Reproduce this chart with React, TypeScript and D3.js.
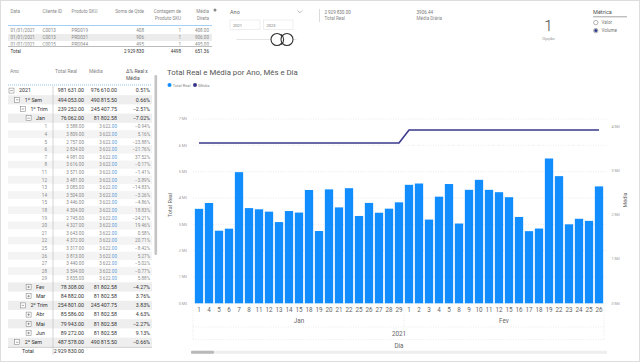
import * as d3 from "d3";

// daily totals shown in the column chart
const janDays = ["1", "4", "5", "6", "7", "8", "11", "12", "13", "14", "15", "18", "19", "20", "21", "22", "25", "26", "27", "28", "29"];
const janTotals = [3588, 3809, 2757, 2834, 4981, 3616, 3571, 3481, 3085, 3504, 3446, 4304, 2745, 4327, 3643, 4372, 3317, 3813, 3440, 3594, 3835];
const fevDays = ["1", "2", "3", "4", "5", "8", "9", "10", "11", "12", "15", "16", "17", "18", "19", "22", "23", "24", "25", "26"];
const fevTotals = [4500, 4550, 3180, 4050, 4530, 3030, 4310, 4690, 4310, 4220, 4030, 3280, 2740, 2840, 5500, 4830, 3000, 3210, 3130, 4440];
const janMediaDia = 3622;
const fevMediaDia = 3915.4;
const leftTicks = [0, 1000, 2000, 3000, 4000, 5000, 6000, 7000];
const rightTicks = [0, 1000, 2000, 3000, 4000];

// matrix rows above and below the expanded month
const topLabels = ["2021", "1º Sem", "1º Trim", "Jan"];
const topLevels = [0, 1, 2, 3];
const topTotals = [981631, 494053, 239252, 76062];
const topMedias = [976610, 490815.5, 245407.75, 81802.58];
const bottomLabels = ["Fev", "Mar", "2º Trim", "Abr", "Mai", "Jun", "2º Sem"];
const bottomLevels = [3, 3, 2, 3, 3, 3, 1];
const bottomExpanded = [false, false, true, false, false, false, true];
const bottomTotals = [78308, 84882, 254801, 85586, 79943, 89272, 487578];
const bottomMedias = [81802.58, 81802.58, 245407.75, 81802.58, 81802.58, 81802.58, 490815.5];
const grandTotal = 2929830;

// detail table
const detailDates = ["01/01/2021", "01/01/2021", "01/01/2021"];
const detailClients = ["C0013", "C0013", "C0015"];
const detailSkus = ["PRD019", "PRD031", "PRD044"];
const detailQty = [408, 906, 495];
const detailCount = [1, 1, 1];
const detailTotals = [2929830, 4498, 651.36];

const BLUE = "#118DFF";
const NAVY = "#3A388C";
const FONT = "'Liberation Sans Narrow', 'Roboto', 'DejaVu Sans', sans-serif";

const loc = d3.formatLocale({ decimal: ".", thousands: "\u2009", grouping: [3], currency: ["", ""] });
const f2 = loc.format(",.2f");
const f0 = loc.format(",.0f");
const pct = (v: number, m: number) => d3.format(".2f")((v / m - 1) * 100) + "%";

function ExpandBox({ x, y, open }: { x: number; y: number; open: boolean }) {
  return (
    <g>
      <rect x={x} y={y - 2.5} width={5} height={5} fill="white" stroke="#777" strokeWidth={0.5} />
      <line x1={x + 1.2} x2={x + 3.8} y1={y} y2={y} stroke="#555" strokeWidth={0.5} />
      {!open && <line x1={x + 2.5} x2={x + 2.5} y1={y - 1.3} y2={y + 1.3} stroke="#555" strokeWidth={0.5} />}
    </g>
  );
}

function Matrix() {
  const hierH = 9.2;
  const dayH = 7.6;
  type Row = { label: string; level: number; open: boolean; total: number; media: number; day: boolean; y: number; h: number };
  const rows: Row[] = [];
  let y = 86;
  topLabels.forEach((l, i) => {
    rows.push({ label: l, level: topLevels[i], open: true, total: topTotals[i], media: topMedias[i], day: false, y, h: hierH });
    y += hierH;
  });
  janDays.forEach((d, i) => {
    rows.push({ label: d, level: 4, open: false, total: janTotals[i], media: janMediaDia, day: true, y, h: dayH });
    y += dayH;
  });
  bottomLabels.forEach((l, i) => {
    rows.push({ label: l, level: bottomLevels[i], open: bottomExpanded[i], total: bottomTotals[i], media: bottomMedias[i], day: false, y, h: hierH });
    y += hierH;
  });
  const colTotal = 84;
  const colMedia = 117;
  const colDelta = 150;
  return (
    <g fontFamily={FONT}>
      <text x={10} y={73} fontSize={5} fill="#888">Ano</text>
      <text x={55} y={73} fontSize={5} fill="#888">Total Real</text>
      <text x={89} y={73} fontSize={5} fill="#888">Média</text>
      <text x={126} y={73} fontSize={5} fill="#555">Δ% Real x</text>
      <text x={126} y={80} fontSize={5} fill="#555">Média</text>
      <line x1={8} x2={152} y1={85} y2={85} stroke="#7fb7e8" strokeWidth={0.8} strokeDasharray="1 1" />
      {rows.map((r, i) => {
        const cy = r.y + r.h / 2 + 1.8;
        const fill = r.day ? "#8a8a8a" : "#333";
        const fs = r.day ? 4.6 : 5.3;
        const labelX = 19 + (r.level - 0) * 5.7;
        return (
          <g key={i}>
            {i % 2 === 1 && <rect x={8} y={r.y} width={144} height={r.h} fill={r.day ? "#f4f4f4" : "#eeeeee"} />}
            {r.day && <line x1={53} x2={152} y1={r.y + r.h} y2={r.y + r.h} stroke="#e2e2e2" strokeWidth={0.4} strokeDasharray="1 1" />}
            {!r.day && <ExpandBox x={labelX - 10} y={cy - 1.8} open={r.open} />}
            <text x={r.day ? 47 : labelX} y={cy} fontSize={fs} fill={fill} textAnchor={r.day ? "end" : "start"}>
              {r.label}
            </text>
            <text x={colTotal} y={cy} fontSize={fs} fill={fill} textAnchor="end">{f2(r.total)}</text>
            <text x={colMedia} y={cy} fontSize={fs} fill={fill} textAnchor="end">
              {r.day ? (
                <>
                  {f0(r.media)}.<tspan fill="#5b9bd5">00</tspan>
                </>
              ) : (
                f2(r.media)
              )}
            </text>
            <text x={colDelta} y={cy} fontSize={fs} fill={fill} textAnchor="end">{pct(r.total, r.media)}</text>
          </g>
        );
      })}
      <line x1={8} x2={152} y1={y + 0.5} y2={y + 0.5} stroke="#999" strokeWidth={0.5} />
      <text x={22} y={y + 6} fontSize={5.3} fill="#333">Total</text>
      <text x={colTotal} y={y + 6} fontSize={5.3} fill="#333" textAnchor="end">{f2(grandTotal)}</text>
      <line x1={53} x2={53} y1={86} y2={y + 8} stroke="#bbb" strokeWidth={0.6} />
      <rect x={154.5} y={75} width={2.6} height={180} rx={1.3} fill="#c4c4c4" />
    </g>
  );
}

function DetailTable() {
  const cols = [10.5, 42.5, 71.5];
  return (
    <g fontFamily={FONT} fontSize={4.6} fill="#888">
      <text x={10.5} y={13}>Data</text>
      <text x={42.5} y={13}>Cliente ID</text>
      <text x={71.5} y={13}>Produto SKU</text>
      <text x={144} y={13} textAnchor="end">Soma de Qtde</text>
      <text x={181} y={13} textAnchor="end">Contagem de</text>
      <text x={181} y={19.5} textAnchor="end">Produto SKU</text>
      <text x={209} y={13} textAnchor="end">Média</text>
      <text x={209} y={19.5} textAnchor="end">Direta</text>
      <line x1={8} x2={212} y1={25.5} y2={25.5} stroke="#8cc3f0" strokeWidth={0.8} />
      <clipPath id="detail-clip">
        <rect x={8} y={26} width={205} height={19.5} />
      </clipPath>
      <g clipPath="url(#detail-clip)">
        {detailDates.map((d, i) => {
          const ry = 27 + i * 7;
          return (
            <g key={i}>
              {i === 1 && <rect x={8} y={ry} width={204} height={7} fill="#ececec" />}
              <text x={cols[0]} y={ry + 5}>{d}</text>
              <text x={cols[1]} y={ry + 5}>{detailClients[i]}</text>
              <text x={cols[2]} y={ry + 5}>{detailSkus[i]}</text>
              <text x={144} y={ry + 5} textAnchor="end">{detailQty[i]}</text>
              <text x={181} y={ry + 5} textAnchor="end">{detailCount[i]}</text>
              <text x={209} y={ry + 5} textAnchor="end">{f2(detailQty[i] / detailCount[i])}</text>
            </g>
          );
        })}
      </g>
      <line x1={8} x2={212} y1={46.5} y2={46.5} stroke="#777" strokeWidth={0.5} />
      <g fill="#333">
        <text x={10.5} y={53}>Total</text>
        <text x={144} y={53} textAnchor="end">{f0(detailTotals[0])}</text>
        <text x={181} y={53} textAnchor="end">{detailTotals[1]}</text>
        <text x={209} y={53} textAnchor="end">{f2(detailTotals[2])}</text>
      </g>
      <circle cx={215} cy={10} r={1.5} fill="#888" />
    </g>
  );
}

function TopControls() {
  return (
    <g fontFamily={FONT}>
      <text x={230} y={14} fontSize={5.5} fill="#666">Ano</text>
      <path d="M297.5,10.5 l2.3,2.3 l2.3,-2.3" fill="none" stroke="#888" strokeWidth={0.6} />
      <rect x={230} y={20} width={30} height={9.5} fill="white" stroke="#ddd" strokeWidth={0.5} />
      <rect x={263.5} y={20} width={29.5} height={9.5} fill="white" stroke="#ddd" strokeWidth={0.5} />
      <text x={233} y={26.5} fontSize={4} fill="#777">2021</text>
      <text x={266.5} y={26.5} fontSize={4} fill="#777">2023</text>
      <line x1={236.5} x2={296.5} y1={39.5} y2={39.5} stroke="#ddd" strokeWidth={0.8} />
      <circle cx={277} cy={39.5} r={6} fill="white" stroke="#333" strokeWidth={1.1} />
      <circle cx={287} cy={39.5} r={6} fill="white" stroke="#333" strokeWidth={1.1} />
      <path d="M281,34.5 a6,6 0 0 1 0,10" fill="none" stroke="#333" strokeWidth={1.1} />
      <line x1={319.5} x2={319.5} y1={9} y2={22} stroke="#ccc" strokeWidth={0.7} />
      <text x={324.5} y={14} fontSize={4.6} fill="#777">{f2(detailTotals[0])}</text>
      <text x={324.5} y={20} fontSize={4.6} fill="#888">Total Real</text>
      <text x={416.5} y={14} fontSize={4.6} fill="#777">3906.44</text>
      <text x={416.5} y={20} fontSize={4.6} fill="#888">Média Diária</text>
      <text x={548.5} y={31} fontSize={15} fill="#444" textAnchor="middle" fontWeight={300}>1</text>
      <text x={548.5} y={40} fontSize={4.4} fill="#999" textAnchor="middle">Opção</text>
      <text x={593} y={14} fontSize={5.6} fill="#555">Métrica</text>
      <line x1={593} x2={627} y1={16.8} y2={16.8} stroke="#666" strokeWidth={0.6} />
      <circle cx={595.8} cy={22.6} r={2.2} fill="white" stroke="#666" strokeWidth={0.5} />
      <text x={601.5} y={24.4} fontSize={4.6} fill="#777">Valor</text>
      <circle cx={595.8} cy={30.6} r={2.2} fill="white" stroke="#555" strokeWidth={0.5} />
      <circle cx={595.8} cy={30.6} r={1.5} fill="#2b3a8c" />
      <text x={601.5} y={32.4} fontSize={4.6} fill="#777">Volume</text>
    </g>
  );
}

function ColumnChart() {
  const bars = [
    ...janDays.map((d, i) => ({ key: `Jan-${d}`, day: d, month: "Jan", value: janTotals[i], media: janMediaDia })),
    ...fevDays.map((d, i) => ({ key: `Fev-${d}`, day: d, month: "Fev", value: fevTotals[i], media: fevMediaDia })),
  ];
  const x = d3.scaleBand().domain(bars.map((b) => b.key)).range([194, 604]).paddingInner(0.17).paddingOuter(0.085);
  const yL = d3.scaleLinear().domain([0, 7000]).range([303.3, 119]);
  const yR = d3.scaleLinear().domain([0, 4165]).range([303.3, 119]);
  const cx = (k: string) => (x(k) ?? 0) + x.bandwidth() / 2;
  const line = d3
    .line<(typeof bars)[number]>()
    .x((b) => cx(b.key))
    .y((b) => yR(b.media));
  const lastJan = bars[janDays.length - 1].key;
  const firstFev = bars[janDays.length].key;
  const split = (cx(lastJan) + cx(firstFev)) / 2;
  const months = [
    { name: "Jan", x: (194 + split) / 2 },
    { name: "Fev", x: (split + 604) / 2 },
  ];

  return (
    <g fontFamily={FONT}>
      <text x={167} y={75} fontSize={7.8} fill="#555">Total Real e Média por Ano, Mês e Dia</text>
      <circle cx={169.5} cy={85} r={2} fill={BLUE} />
      <text x={172.8} y={86.5} fontSize={4} fill="#888">Total Real</text>
      <circle cx={195} cy={85} r={2} fill={NAVY} />
      <text x={198.3} y={86.5} fontSize={4} fill="#888">Média</text>

      {leftTicks.map((t) => (
        <g key={t}>
          <line x1={193} x2={607} y1={yL(t)} y2={yL(t)} stroke="#ddd" strokeWidth={0.6} strokeDasharray="1 1.5" />
          <text x={187} y={yL(t) + 1.3} fontSize={3.8} fill="#999" textAnchor="end">{`${t / 1000} Mil`}</text>
        </g>
      ))}
      {rightTicks.map((t) => (
        <text key={t} x={611.5} y={yR(t) + 1.3} fontSize={3.8} fill="#999">{`${t / 1000} Mil`}</text>
      ))}
      <text transform="translate(171.5,205) rotate(-90)" fontSize={5.5} fill="#666" textAnchor="middle">Total Real</text>
      <text transform="translate(626.5,200) rotate(-90)" fontSize={5.5} fill="#666" textAnchor="middle">Média</text>

      {bars.map((b) => (
        <rect key={b.key} x={x(b.key)} y={yL(b.value)} width={x.bandwidth()} height={yL(0) - yL(b.value)} fill={BLUE} />
      ))}
      <path d={line(bars) ?? ""} fill="none" stroke={NAVY} strokeWidth={1.6} />

      {bars.map((b) => (
        <text key={b.key} x={cx(b.key)} y={312.3} fontSize={6.3} fill="#666" textAnchor="middle">{b.day}</text>
      ))}
      {months.map((m) => (
        <text key={m.name} x={m.x} y={322.8} fontSize={6.3} fill="#666" textAnchor="middle">{m.name}</text>
      ))}
      <g stroke="#ddd" strokeWidth={0.6} strokeDasharray="1 1.5">
        <line x1={193} x2={193} y1={305} y2={340} />
        <line x1={604} x2={604} y1={305} y2={340} />
        <line x1={split} x2={split} y1={305} y2={327} />
        <line x1={193} x2={604} y1={327} y2={327} />
        <line x1={193} x2={604} y1={339.5} y2={339.5} />
      </g>
      <text x={399} y={335.5} fontSize={6.3} fill="#666" textAnchor="middle">2021</text>
      <text x={399} y={348.3} fontSize={6.3} fill="#666" textAnchor="middle">Dia</text>
      <rect x={191} y={350.8} width={416} height={3} fill="#eeeeee" />
      <rect x={191} y={350.8} width={23} height={3} rx={1.2} fill="#b9b9b9" />
    </g>
  );
}

export default function App() {
  return (
    <svg width={640} height={362} style={{ position: "absolute", left: 0, top: 0, background: "white" }}>
      <rect x={0} y={0} width={640} height={362} fill="white" />
      <DetailTable />
      <TopControls />
      <Matrix />
      <ColumnChart />
      <rect x={0.5} y={0.5} width={639} height={361} fill="none" stroke="#bbb" strokeWidth={1} strokeDasharray="1 1" />
    </svg>
  );
}
